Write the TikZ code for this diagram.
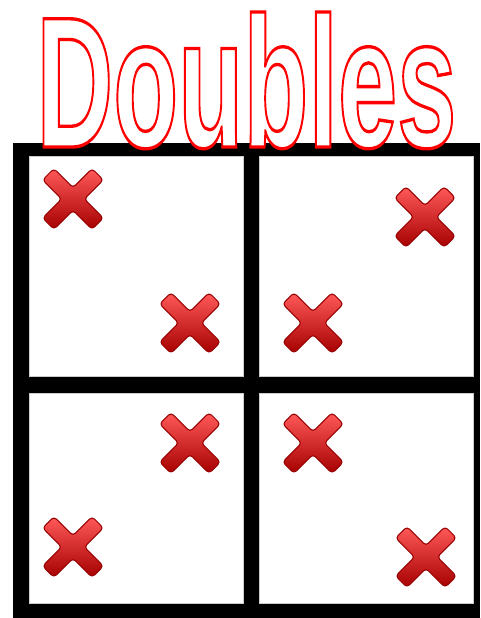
\documentclass[tikz,border=0pt]{standalone}
\usepackage{fontspec}
\usepackage{graphicx}
\newfontfamily\titlefont{Liberation Sans}
\usetikzlibrary{positioning}

\tikzset{
  cell/.style={fill=white, draw=black!20, line width=0.4pt},
  cross/.style={draw=red!60!black, line width=0.6pt, top color=red!65!white, middle color=red!92!black, bottom color=red!65!black, rounded corners=2pt},
  redcross/.pic={
    \path[cross] (-30.4,19.1) -- (-19.1,30.4) -- (0,11.3) -- (19.1,30.4) -- (30.4,19.1) -- (11.3,0) -- (30.4,-19.1) -- (19.1,-30.4) -- (0,-11.3) -- (-19.1,-30.4) -- (-30.4,-19.1) -- (-11.3,0) -- cycle;
  }
}

\begin{document}
\begin{tikzpicture}[x=0.02cm, y=-0.02cm]
    \useasboundingbox (0,0) rectangle (480,618);
    \fill[black] (13,143) rectangle (480,618);
    \draw[cell] (29,156) rectangle (243,376);
    \draw[cell] (259,156) rectangle (473,376);
    \draw[cell] (29,393) rectangle (243,603);
    \draw[cell] (259,393) rectangle (473,603);

    \pic at (73,199) {redcross};
    \pic at (190,323) {redcross};
    \pic at (425,217) {redcross};
    \pic at (313,323) {redcross};
    \pic at (190,443) {redcross};
    \pic at (73,547) {redcross};
    \pic at (313,443) {redcross};
    \pic at (426,557) {redcross};

    \node[anchor=base west, inner sep=0] (title) at (36,147) {\resizebox{8.4cm}{2.7cm}{\titlefont\bfseries\special{pdf:literal direct 1 g 1 0 0 RG 0.18 w 2 Tr}Doubles\special{pdf:literal direct 0 Tr}}};
\end{tikzpicture}
\end{document}
